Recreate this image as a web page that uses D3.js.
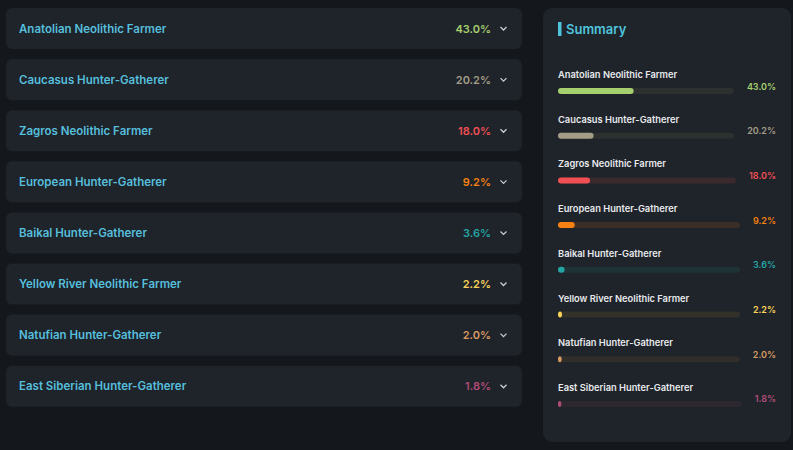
<!DOCTYPE html>
<html>
<head>
<meta charset="utf-8">
<script src="https://cdn.jsdelivr.net/npm/d3@7"></script>
<style>
  html, body { margin: 0; padding: 0; background: #14181c; }
  svg { display: block; font-family: "Inter", "Open Sans", sans-serif; }
</style>
</head>
<body>
<div id="chart"></div>
<script>
// dades
const poblacions = [
  "Anatolian Neolithic Farmer",
  "Caucasus Hunter-Gatherer",
  "Zagros Neolithic Farmer",
  "European Hunter-Gatherer",
  "Baikal Hunter-Gatherer",
  "Yellow River Neolithic Farmer",
  "Natufian Hunter-Gatherer",
  "East Siberian Hunter-Gatherer"
];
const percentatges = [43.0, 20.2, 18.0, 9.2, 3.6, 2.2, 2.0, 1.8];
const colors = ["#a6cf6e", "#a39d88", "#f04f53", "#f58112", "#24a5a4", "#f9d45a", "#d69a62", "#b04d76"];
const pistes = ["#2c302e", "#2c302e", "#3a2a2e", "#3a2e28", "#1f3336", "#33322a", "#302e2a", "#2d2730"];

const data = poblacions.map((p, i) => ({ nom: p, valor: percentatges[i], color: colors[i], pista: pistes[i] }));

const W = 793, H = 450;
const svg = d3.select("#chart").append("svg").attr("width", W).attr("height", H);
svg.append("rect").attr("width", W).attr("height", H).attr("fill", "#14181c");

// llista esquerra
const yCard = d3.scaleBand()
  .domain(poblacions)
  .range([8, 8 + 51.1 * 8 - 10])
  .paddingInner(10 / 51.1)
  .paddingOuter(0);

const cards = svg.selectAll(".card").data(data).enter().append("g")
  .attr("class", "card")
  .attr("transform", d => `translate(6, ${yCard(d.nom)})`);

cards.append("rect")
  .attr("width", 516)
  .attr("height", yCard.bandwidth())
  .attr("rx", 6)
  .attr("fill", "#1f232a");

cards.append("text")
  .attr("x", 13)
  .attr("y", yCard.bandwidth() / 2 + 4)
  .attr("fill", "#56bfdc")
  .style("font-size", "11.5px")
  .style("font-weight", 600)
  .text(d => d.nom);

cards.append("text")
  .attr("x", 485)
  .attr("y", yCard.bandwidth() / 2 + 4)
  .attr("text-anchor", "end")
  .attr("fill", d => d.color)
  .style("font-size", "11px")
  .style("font-weight", 600)
  .text(d => d.valor.toFixed(1) + "%");

cards.append("path")
  .attr("d", `M494.5,${yCard.bandwidth() / 2 - 1.5} l3,3 l3,-3`)
  .attr("fill", "none")
  .attr("stroke", "#c9ccd0")
  .attr("stroke-width", 1.3);

// panell resum
svg.append("rect")
  .attr("x", 543).attr("y", 8)
  .attr("width", 248).attr("height", 434)
  .attr("rx", 9)
  .attr("fill", "#1f232a");

svg.append("rect")
  .attr("x", 558).attr("y", 22)
  .attr("width", 3.5).attr("height", 14)
  .attr("fill", "#4fc3dc");

svg.append("text")
  .attr("x", 566).attr("y", 34)
  .attr("fill", "#4fc3dc")
  .style("font-size", "13px")
  .style("font-weight", 600)
  .text("Summary");

const yRes = d3.scaleBand()
  .domain(poblacions)
  .range([66, 66 + 44.7 * 8]);

const items = svg.selectAll(".item").data(data).enter().append("g")
  .attr("class", "item")
  .attr("transform", d => `translate(558, ${yRes(d.nom)})`);

items.append("text")
  .attr("x", 0).attr("y", 12)
  .attr("fill", "#e8eaec")
  .style("font-size", "9.3px")
  .style("font-weight", 600)
  .text(d => d.nom);

items.append("text")
  .attr("x", 218).attr("y", 23.5)
  .attr("text-anchor", "end")
  .attr("fill", d => d.color)
  .style("font-size", "9px")
  .style("font-weight", 600)
  .text(d => d.valor.toFixed(1) + "%");

items.each(function(d) {
  const g = d3.select(this);
  const tw = g.select("text:last-of-type").node().getComputedTextLength();
  const amplada = 218 - tw - 13;
  const x = d3.scaleLinear().domain([0, 100]).range([0, amplada]);
  g.insert("rect", "text:last-of-type")
    .attr("x", 0).attr("y", 22)
    .attr("width", amplada).attr("height", 6)
    .attr("rx", 3)
    .attr("fill", d.pista);
  g.insert("rect", "text:last-of-type")
    .attr("x", 0).attr("y", 22)
    .attr("width", Math.max(x(d.valor), 3))
    .attr("height", 6)
    .attr("rx", 3)
    .attr("fill", d.color);
});
</script>
</body>
</html>
